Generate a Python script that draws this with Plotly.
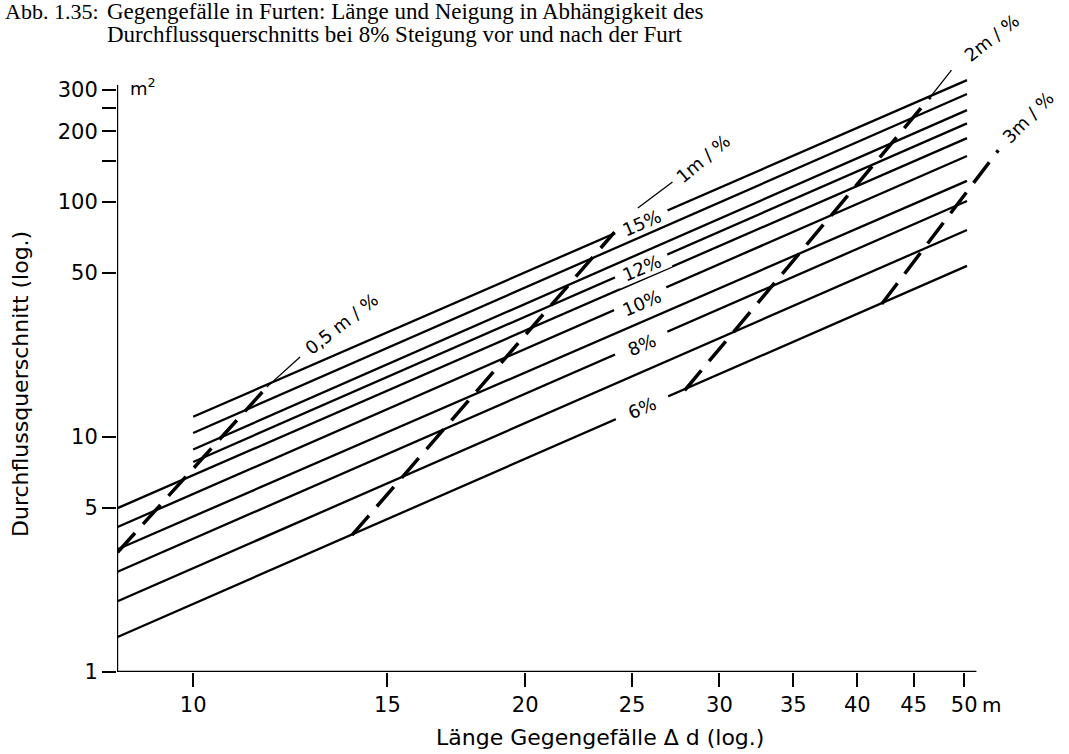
import numpy as np
import plotly.graph_objects as go

# ---------------- data ----------------
# solid lines: counter slope of the ford, start/end (length d in m, cross-section Q in m²)
slopes = ["15%", "14%", "13%", "12%", "11%", "10%", "9%", "8%", "7%", "6%"]
d_start = [10.0, 10.0, 10.0, 10.0, 8.54, 8.54, 8.54, 8.54, 8.54, 8.54]
q_start = [12.2, 10.4, 8.85, 7.83, 4.98, 4.14, 3.33, 2.67, 2.00, 1.41]
d_end = [50.3, 50.3, 50.3, 50.3, 50.3, 50.3, 50.3, 50.3, 50.3, 50.3]
q_end = [330, 288, 246, 216, 187, 157, 123, 101, 76.0, 53.5]

# labelled slope lines (label position along the line)
slope_labels = ["15%", "12%", "10%", "8%", "6%"]
slope_label_d = [25.5, 25.5, 25.5, 25.5, 25.5]
slope_label_q = [81.3, 52.3, 37.1, 24.6, 13.3]

# dashed lines: constant length per percent
ratio_labels = ["0,5 m / %", "1m / %", "2m / %", "3m / %"]
ratio_d = [[8.54, 11.66], [13.93, 24.1], [27.9, 46.6], [42.1, 53.7]]
ratio_q = [[3.23, 16.3], [3.82, 74.5], [15.8, 280.0], [36.8, 166.0]]
leader_d = [[11.66, 12.5], [25.3, 27.2], [46.6, 48.7]]
leader_q = [[16.3, 21.9], [94.2, 121.6], [280.0, 364.0]]
ratio_label_d = [13.64, 29.0, 53.0, 57.1]
ratio_label_q = [30.5, 153.8, 500.0, 229.8]
ratio_label_angle = [-38, -40, -38, -45]

# axes
x_ticks = [10, 15, 20, 25, 30, 35, 40, 45, 50]
y_ticks = [1, 5, 10, 50, 100, 150, 200, 250, 300]
y_ticktext = ["1", "5", "10", "50", "100", "", "200", "", "300"]
x_axis_end = 51.3
y_axis_top = 315.0
x_axis_start = 8.53

# ---------------- layout geometry ----------------
W, H = 1069, 754
ML, MR, MT, MB = 117, 15, 0, 82
PX_PER_DEC_X = 1103.0
PX_PER_DEC_Y = 235.0
plot_w = W - ML - MR
plot_h = H - MT - MB
x0 = np.log10(x_axis_start)
x_range = [x0, x0 + plot_w / PX_PER_DEC_X]
y_range = [0.0, plot_h / PX_PER_DEC_Y]


def px_to_paper(px, py):
    return (px - ML) / plot_w, (H - MB - py) / plot_h


SANS = "DejaVu Sans"
SERIF = "Liberation Serif"
BLACK = "black"

fig = go.Figure()

# axis lines (drawn as a trace so the plotting area can extend beyond them)
fig.add_trace(go.Scatter(
    x=[x_axis_start, x_axis_start, x_axis_end],
    y=[y_axis_top, 1, 1],
    mode="lines", line=dict(color=BLACK, width=2.4),
    hoverinfo="skip", showlegend=False))

# solid slope lines
for name, xs, ys, xe, ye in zip(slopes, d_start, q_start, d_end, q_end):
    fig.add_trace(go.Scatter(
        x=[xs, xe], y=[ys, ye], mode="lines", name=name,
        line=dict(color=BLACK, width=2.3), showlegend=False))

# dashed constant-ratio lines
for name, xs, ys in zip(ratio_labels, ratio_d, ratio_q):
    fig.add_trace(go.Scatter(
        x=xs, y=ys, mode="lines", name=name,
        line=dict(color=BLACK, width=3.5, dash="26px,12px"), showlegend=False))

# leader lines to labels
for xs, ys in zip(leader_d, leader_q):
    fig.add_trace(go.Scatter(
        x=xs, y=ys, mode="lines", hoverinfo="skip",
        line=dict(color=BLACK, width=1.3), showlegend=False))

annotations = []
# slope labels sitting in a gap of their line
for t, d, q in zip(slope_labels, slope_label_d, slope_label_q):
    annotations.append(dict(
        text=t, x=np.log10(d), y=np.log10(q), xref="x", yref="y",
        xanchor="center", yanchor="middle",
        showarrow=False, textangle=-23, bgcolor="white", width=56, height=20,
        borderpad=0, font=dict(family=SANS, size=18, color=BLACK)))

# ratio labels
for t, d, q, a in zip(ratio_labels, ratio_label_d, ratio_label_q, ratio_label_angle):
    annotations.append(dict(
        text=t, x=np.log10(d), y=np.log10(q), xref="x", yref="y",
        xanchor="center", yanchor="middle",
        showarrow=False, textangle=a,
        font=dict(family=SANS, size=18, color=BLACK)))

# units
px, py = px_to_paper(128, 87)
annotations.append(dict(text="m<sup>2</sup>", x=px, y=py, xref="paper", yref="paper",
                        xanchor="left", yanchor="middle", showarrow=False,
                        font=dict(family=SANS, size=18, color=BLACK)))
px, py = px_to_paper(980, 705)
annotations.append(dict(text="m", x=px, y=py, xref="paper", yref="paper",
                        xanchor="left", yanchor="middle", showarrow=False,
                        font=dict(family=SANS, size=20, color=BLACK)))

# axis titles
px, py = px_to_paper(600, 737)
annotations.append(dict(text="Länge Gegengefälle Δ d (log.)", x=px, y=py,
                        xref="paper", yref="paper", xanchor="center", yanchor="middle",
                        showarrow=False, font=dict(family=SANS, size=22, color=BLACK)))
px, py = px_to_paper(20, 384)
annotations.append(dict(text="Durchflussquerschnitt (log.)", x=px, y=py,
                        xref="paper", yref="paper", xanchor="center", yanchor="middle",
                        showarrow=False, textangle=-90,
                        font=dict(family=SANS, size=22, color=BLACK)))

# figure caption
px, py = px_to_paper(3, 11)
annotations.append(dict(text="Abb. 1.35:", x=px, y=py, xref="paper", yref="paper",
                        xanchor="left", yanchor="middle", showarrow=False,
                        font=dict(family=SERIF, size=22, color=BLACK)))
px, py = px_to_paper(105, 11)
annotations.append(dict(text="Gegengefälle in Furten: Länge und Neigung in Abhängigkeit des",
                        x=px, y=py, xref="paper", yref="paper", xanchor="left",
                        yanchor="middle", showarrow=False,
                        font=dict(family=SERIF, size=23, color=BLACK)))
px, py = px_to_paper(105, 34)
annotations.append(dict(text="Durchflussquerschnitts bei 8% Steigung vor und nach der Furt",
                        x=px, y=py, xref="paper", yref="paper", xanchor="left",
                        yanchor="middle", showarrow=False,
                        font=dict(family=SERIF, size=23, color=BLACK)))

fig.update_layout(
    width=W, height=H,
    margin=dict(l=ML, r=MR, t=MT, b=MB, pad=0),
    paper_bgcolor="white", plot_bgcolor="white",
    showlegend=False,
    annotations=annotations,
    xaxis=dict(type="log", range=x_range, tickvals=x_ticks,
               ticktext=[str(v) for v in x_ticks],
               showgrid=False, zeroline=False, showline=False,
               ticks="outside", ticklen=14, tickwidth=2, tickcolor=BLACK,
               tickfont=dict(family=SANS, size=21, color=BLACK)),
    yaxis=dict(type="log", range=y_range, tickvals=y_ticks, ticktext=y_ticktext,
               showgrid=False, zeroline=False, showline=False,
               ticks="outside", ticklen=14, tickwidth=2, tickcolor=BLACK,
               tickfont=dict(family=SANS, size=21, color=BLACK)),
)

fig.write_html("out.html", config={"displayModeBar": False},
               post_script="document.body.style.margin='0px';")
